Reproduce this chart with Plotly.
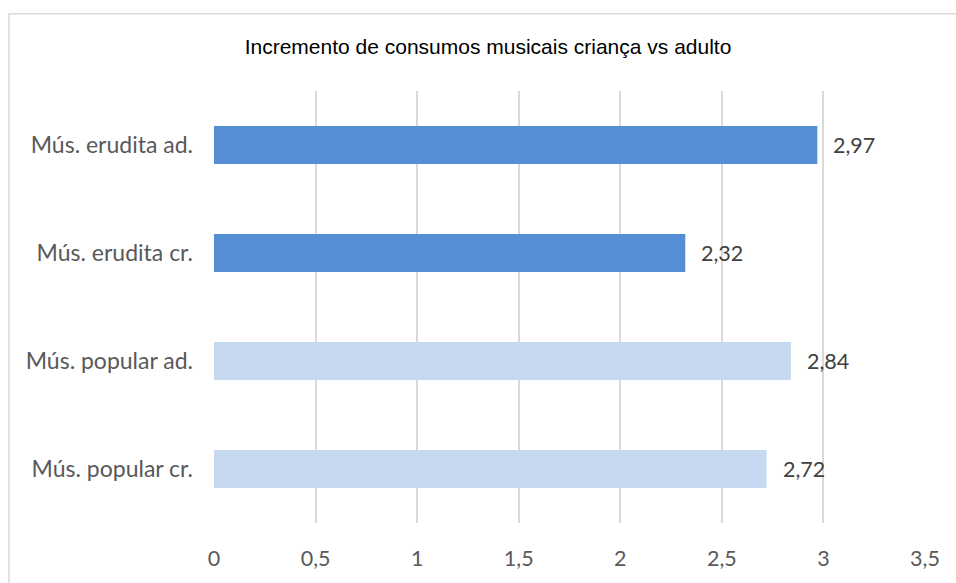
import plotly.graph_objects as go

categories = ["Mús. popular cr.", "Mús. popular ad.", "Mús. erudita cr.", "Mús. erudita ad."]
values = [2.72, 2.84, 2.32, 2.97]
colors = ["#C6D9F1", "#C6D9F1", "#558ED5", "#558ED5"]
x_ticks = [0, 0.5, 1, 1.5, 2, 2.5, 3, 3.5]
title_text = "Incremento de consumos musicais criança vs adulto"

W, H = 956, 583
L, R, T, B = 214, 31, 91, 56
pw, ph = W - L - R, H - T - B

def px_to_paper_x(p):
    return (p - L) / pw

def px_to_paper_y(p):
    return (H - B - p) / ph

fig = go.Figure()
fig.add_trace(go.Bar(
    x=values, y=categories, orientation="h",
    marker=dict(color=colors, line=dict(width=0)),
    hoverinfo="skip",
))

for v, c in zip(values, categories):
    fig.add_annotation(
        x=v, y=c, xref="x", yref="y",
        text=f"{v:.2f}".replace(".", ","),
        showarrow=False, xanchor="left", yanchor="middle",
        xshift=14,
        font=dict(family="Lato", size=21.5, color="#404040"),
    )

fig.add_shape(
    type="rect", xref="paper", yref="paper",
    x0=px_to_paper_x(9), x1=px_to_paper_x(968),
    y0=px_to_paper_y(595), y1=px_to_paper_y(13),
    line=dict(color="#D9D9D9", width=1.5), fillcolor="rgba(0,0,0,0)",
    layer="below",
)

fig.update_layout(
    width=W, height=H,
    margin=dict(l=L, r=R, t=T, b=B),
    paper_bgcolor="white", plot_bgcolor="white",
    separators=", ",
    bargap=0.649,
    showlegend=False,
    title=dict(
        text=title_text, x=488 / W, xanchor="center",
        y=1 - 47 / H, yanchor="middle", xref="container", yref="container",
        font=dict(family="Liberation Sans", size=21, color="#000000"),
    ),
    xaxis=dict(
        range=[0, 3.5], tickvals=x_ticks,
        ticktext=[str(t).replace(".", ",") for t in x_ticks],
        showgrid=True, gridcolor="#D9D9D9", gridwidth=2,
        zeroline=False, showline=False, ticks="",
        ticklabelstandoff=20,
        tickfont=dict(family="Lato", size=21.5, color="#595959"),
        fixedrange=True,
    ),
    yaxis=dict(
        categoryorder="array", categoryarray=categories,
        range=[-0.5, 3.5],
        showgrid=False, zeroline=False, showline=False, ticks="",
        ticklabelstandoff=20,
        tickfont=dict(family="Lato", size=23, color="#595959"),
        fixedrange=True,
    ),
)

fig.write_html("out.html", config={"displayModeBar": False})
